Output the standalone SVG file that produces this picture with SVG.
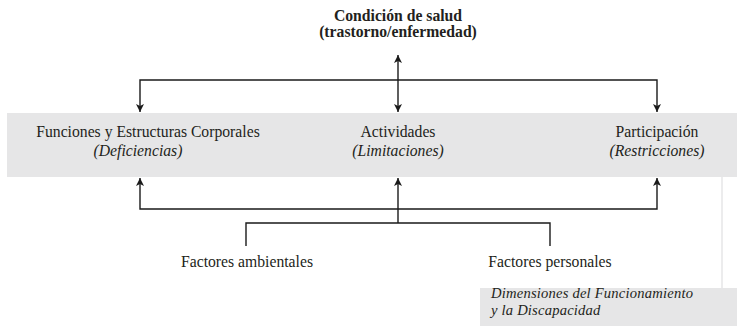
<svg xmlns="http://www.w3.org/2000/svg" width="737" height="326" viewBox="0 0 737 326">
<defs>
<marker id="ah" viewBox="0 0 10 10" refX="10" refY="5" markerWidth="8" markerHeight="8" markerUnits="userSpaceOnUse" orient="auto-start-reverse">
<path d="M0,0 L10,5 L0,10 L2.5,5 Z" fill="#1a1a1a"/>
</marker>
<style>
text{font-family:'Liberation Serif','Times New Roman','DejaVu Serif',serif;font-size:15.7px;fill:#231f20}
.b{font-weight:bold}
.i{font-style:italic}
.c{text-anchor:middle}
.lg{font-size:14.6px;letter-spacing:0.2px}
.ln{stroke:#1a1a1a;stroke-width:1.4;fill:none}
</style>
</defs>
<rect x="0" y="0" width="737" height="326" fill="#ffffff"/>
<g id="band">
<rect x="7" y="113" width="730" height="64" fill="#e6e6e7"/>
</g>
<g id="legend-box">
<line x1="722" y1="177" x2="722" y2="288" stroke="#e6e6e7" stroke-width="1.5"/>
<rect x="480" y="288" width="257" height="38" fill="#e6e6e7"/>
<text class="i lg" x="491" y="298">Dimensiones del Funcionamiento</text>
<text class="i lg" x="491" y="315">y la Discapacidad</text>
</g>
<g id="health">
<text class="b c" x="398" y="21">Condición de salud</text>
<text class="b c" x="398" y="37">(trastorno/enfermedad)</text>
</g>
<g id="body">
<text class="c" x="148" y="137">Funciones y Estructuras Corporales</text>
<text class="i c" x="138" y="156">(Deficiencias)</text>
</g>
<g id="activities">
<text class="c" x="398" y="137">Actividades</text>
<text class="i c" x="398" y="156">(Limitaciones)</text>
</g>
<g id="participation">
<text class="c" x="657" y="137">Participación</text>
<text class="i c" x="657" y="156">(Restricciones)</text>
</g>
<g id="env">
<text class="c" x="247" y="267">Factores ambientales</text>
</g>
<g id="pers">
<text class="c" x="550" y="267">Factores personales</text>
</g>
<g id="connectors">
<line class="ln" x1="398" y1="55" x2="398" y2="112" marker-start="url(#ah)" marker-end="url(#ah)"/>
<polyline class="ln" points="140,112 140,80 657,80 657,112" marker-start="url(#ah)" marker-end="url(#ah)"/>
<polyline class="ln" points="140,178 140,209 657,209 657,178" marker-start="url(#ah)" marker-end="url(#ah)"/>
<line class="ln" x1="398" y1="209" x2="398" y2="178" marker-end="url(#ah)"/>
<line class="ln" x1="398" y1="209" x2="398" y2="223"/>
<polyline class="ln" points="246,246 246,223 550,223 550,246"/>
</g>
</svg>
